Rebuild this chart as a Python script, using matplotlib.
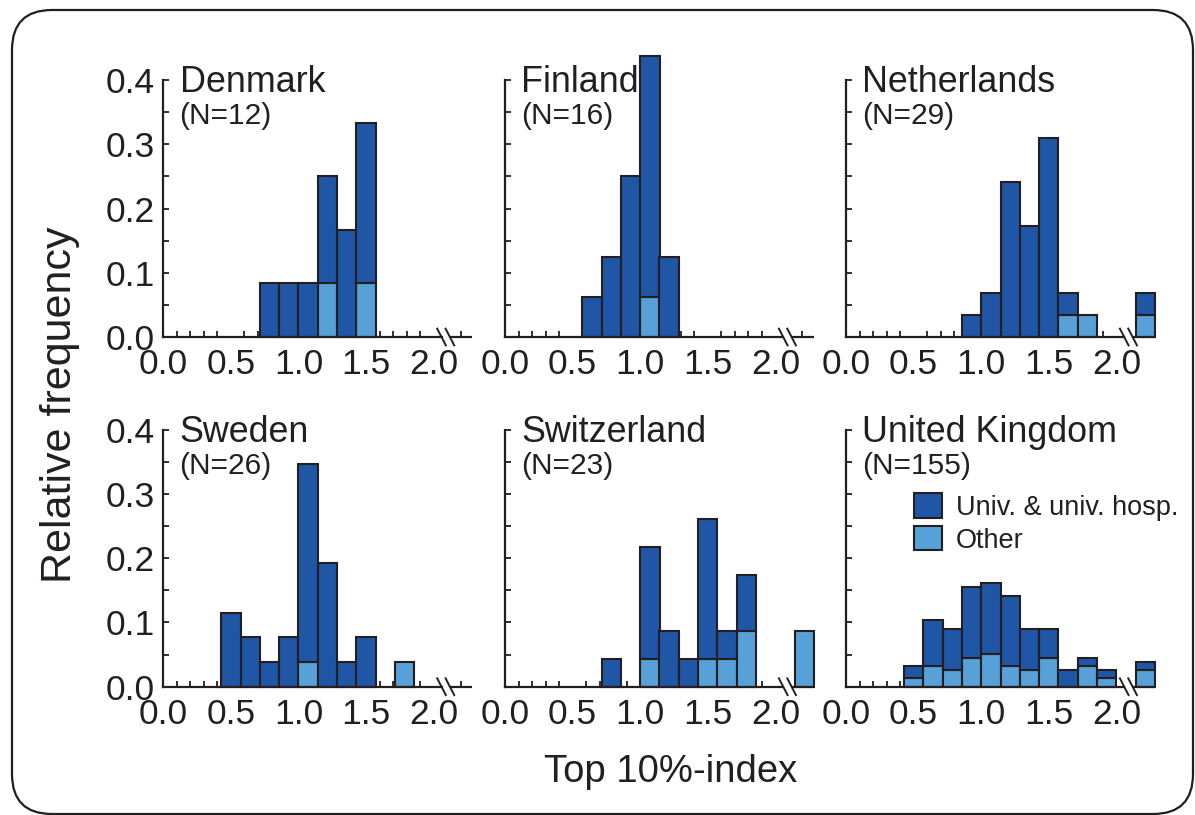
import numpy as np
import matplotlib.pyplot as plt
from matplotlib.patches import Patch, FancyBboxPatch
from matplotlib.ticker import FixedLocator

plt.rcParams['font.family'] = ['Liberation Sans', 'DejaVu Sans']

INK = '#231f20'
DARK = '#1f56a6'
LIGHT = '#58a0d8'

# Histogram bins: fourteen bins of width 1/7 on [0, 2], then one ">2" bin after the axis break
bin_width = 1 / 7
bin_left = [k / 7 for k in range(14)] + [15 / 7]

countries = ["Denmark", "Finland", "Netherlands", "Sweden", "Switzerland", "United Kingdom"]
n_total = [12, 16, 29, 26, 23, 155]

# Counts per bin (universities & university hospitals / other institutions)
denmark_univ = [0, 0, 0, 0, 0, 1, 1, 1, 2, 2, 3, 0, 0, 0, 0]
denmark_other = [0, 0, 0, 0, 0, 0, 0, 0, 1, 0, 1, 0, 0, 0, 0]
finland_univ = [0, 0, 0, 0, 1, 2, 4, 6, 2, 0, 0, 0, 0, 0, 0]
finland_other = [0, 0, 0, 0, 0, 0, 0, 1, 0, 0, 0, 0, 0, 0, 0]
netherlands_univ = [0, 0, 0, 0, 0, 0, 1, 2, 7, 5, 9, 1, 0, 0, 1]
netherlands_other = [0, 0, 0, 0, 0, 0, 0, 0, 0, 0, 0, 1, 1, 0, 1]
sweden_univ = [0, 0, 0, 3, 2, 1, 2, 8, 5, 1, 2, 0, 0, 0, 0]
sweden_other = [0, 0, 0, 0, 0, 0, 0, 1, 0, 0, 0, 0, 1, 0, 0]
switzerland_univ = [0, 0, 0, 0, 0, 1, 0, 4, 2, 1, 5, 1, 2, 0, 0]
switzerland_other = [0, 0, 0, 0, 0, 0, 0, 1, 0, 0, 1, 1, 2, 0, 2]
uk_univ = [0, 0, 0, 3, 11, 10, 17, 17, 17, 10, 7, 4, 2, 2, 2]
uk_other = [0, 0, 0, 2, 5, 4, 7, 8, 5, 4, 7, 0, 5, 2, 4]

univ_counts = [denmark_univ, finland_univ, netherlands_univ,
               sweden_univ, switzerland_univ, uk_univ]
other_counts = [denmark_other, finland_other, netherlands_other,
                sweden_other, switzerland_other, uk_other]

x_tick_values = [0.0, 0.5, 1.0, 1.5, 2.0]
x_tick_labels = ["0.0", "0.5", "1.0", "1.5", "2.0"]
x_minor_values = [round(0.1 * k, 1) for k in range(1, 20)] + [2.2]
y_tick_values = [0.0, 0.1, 0.2, 0.3, 0.4]
y_tick_labels = ["0.0", "0.1", "0.2", "0.3", "0.4"]
y_minor_values = [0.05, 0.15, 0.25, 0.35]

W, H = 1195, 815
fig = plt.figure(figsize=(W / 100, H / 100), dpi=100)

# rounded frame around the whole figure
frame = FancyBboxPatch((12, 1), 1181, 804, boxstyle="round,pad=0,rounding_size=40",
                       transform=None, fill=False, edgecolor=INK, linewidth=1.6)
fig.add_artist(frame)

col_left = [163.3, 505.0, 846.0]
row_bottom = [337.0, 686.7]
ax_w, ax_h = 309.0, 257.0

x_max = 16 / 7
break_a, break_b = 2.058, 2.12

for i, country in enumerate(countries):
    r, c = divmod(i, 3)
    ax = fig.add_axes([col_left[c] / W, 1 - row_bottom[r] / H, ax_w / W, ax_h / H])
    ax.set_xlim(0, x_max)
    ax.set_ylim(0, 0.4)
    ax.patch.set_alpha(0)

    n = n_total[i]
    left = np.array(bin_left)
    other = np.array(other_counts[i]) / n
    univ = np.array(univ_counts[i]) / n

    m = other > 0
    ax.bar(left[m], other[m], width=bin_width, align='edge', color=LIGHT,
           edgecolor=INK, linewidth=1.5, clip_on=False, zorder=3)
    m = univ > 0
    ax.bar(left[m], univ[m], width=bin_width, bottom=other[m], align='edge', color=DARK,
           edgecolor=INK, linewidth=1.5, clip_on=False, zorder=3)

    for side in ('top', 'right'):
        ax.spines[side].set_visible(False)
    for side in ('left', 'bottom'):
        ax.spines[side].set_linewidth(1.6)
        ax.spines[side].set_color(INK)
        ax.spines[side].set_zorder(4)
    ax.spines['bottom'].set_bounds(0, break_a)
    # remaining piece of the x axis after the break, with the break marks
    ax.plot([break_b, x_max], [0, 0], color=INK, lw=1.6, clip_on=False, zorder=4,
            solid_capstyle='butt')
    for xb in (break_a, break_b):
        ax.plot([xb - 0.032, xb + 0.032], [0.013, -0.013], color=INK, lw=1.4,
                clip_on=False, zorder=5)

    ax.xaxis.set_major_locator(FixedLocator(x_tick_values))
    ax.set_xticklabels(x_tick_labels)
    ax.xaxis.set_minor_locator(FixedLocator(x_minor_values))
    ax.yaxis.set_major_locator(FixedLocator(y_tick_values))
    ax.yaxis.set_minor_locator(FixedLocator(y_minor_values))
    if c == 0:
        ax.set_yticklabels(y_tick_labels)
    else:
        ax.set_yticklabels([])

    ax.tick_params(axis='x', which='major', direction='in', length=0, pad=8,
                   labelsize=25.5, labelcolor=INK)
    ax.tick_params(axis='x', which='minor', direction='in', length=4, width=1.3, color=INK)
    ax.tick_params(axis='y', which='both', direction='in', length=4.5, width=1.3,
                   color=INK, pad=6, labelsize=25.5, labelcolor=INK)

    ax.text(0.12, 0.381, country, fontsize=25.8, color=INK, va='baseline', ha='left')
    ax.text(0.12, 0.331, f"(N={n})", fontsize=21.5, color=INK, va='baseline', ha='left')

    if i == 5:
        handles = [Patch(facecolor=DARK, edgecolor=INK, linewidth=1.5),
                   Patch(facecolor=LIGHT, edgecolor=INK, linewidth=1.5)]
        ax.legend(handles, ["Univ. & univ. hosp.", "Other"], loc='upper left',
                  bbox_to_anchor=(0.50, 0.301), bbox_transform=ax.transData,
                  frameon=False, fontsize=19.5, handlelength=1.05, handleheight=1.0,
                  handletextpad=0.5, labelspacing=0.2, borderpad=0, borderaxespad=0,
                  labelcolor=INK)

fig.text(60 / W, 1 - 405 / H, "Relative frequency", rotation=90, ha='center', va='center',
         fontsize=31, color=INK)
fig.text(671 / W, 1 - 781.7 / H, "Top 10%-index", ha='center', va='baseline',
         fontsize=27.5, color=INK)

fig.savefig("out.png", dpi=100)
